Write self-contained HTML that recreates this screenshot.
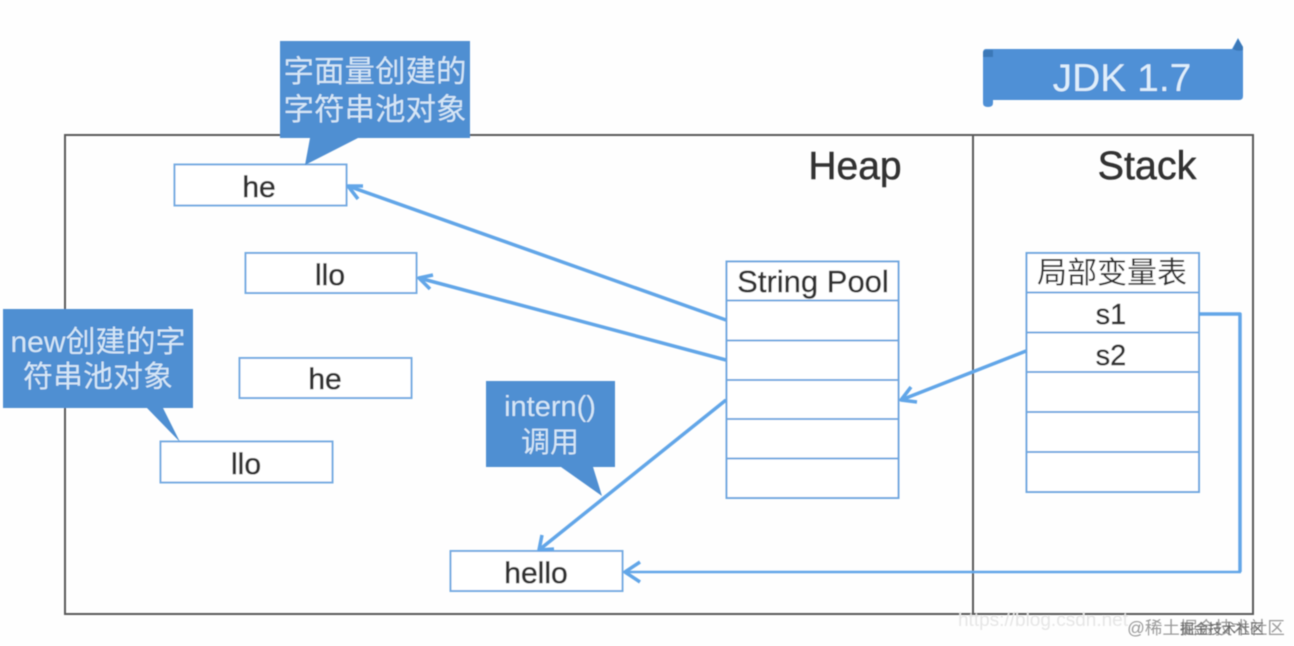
<!DOCTYPE html>
<html>
<head>
<meta charset="utf-8">
<style>
html,body{margin:0;padding:0;background:#fefefe;}
svg{display:block;}
text{font-family:"Liberation Sans","Noto Sans CJK SC",sans-serif;}
</style>
</head>
<body>
<svg width="1294" height="646" viewBox="0 0 1294 646" xmlns="http://www.w3.org/2000/svg">
<defs>
<filter id="b" x="-5%" y="-5%" width="110%" height="110%"><feGaussianBlur stdDeviation="0.6"/></filter>
</defs>
<rect width="1294" height="646" fill="#fefefe"/>
<g filter="url(#b)">
<!-- frame -->
<rect x="65" y="135" width="1188" height="479" fill="none" stroke="#5a5a5a" stroke-width="2"/>
<line x1="973" y1="135" x2="973" y2="614" stroke="#5a5a5a" stroke-width="2"/>

<g stroke="#333" stroke-width="0.5">
<text x="855" y="179" font-size="39" fill="#333" text-anchor="middle">Heap</text>
<text x="1147" y="179" font-size="39.500" fill="#333" text-anchor="middle">Stack</text>
</g>

<!-- JDK banner -->
<path d="M986 49 H1232 L1238 38 L1243 47 V96 Q1243 100 1239 100 H993 V103 Q993 107 988 107 Q983 107 983 103 V53 Q983 49 986 49 Z" fill="#4f90d6"/>
<path d="M983 53 Q983 50 986 50 H993 V57 H983 Z" fill="#3a78b8"/>
<path d="M1233 49 L1238 39 L1243 47 V50 Q1238 52 1233 49 Z" fill="#3a78b8"/>
<text x="1122" y="91" font-size="39" fill="#dfeefb" text-anchor="middle">JDK 1.7</text>

<!-- heap boxes -->
<g fill="#fff" stroke="#74abe2" stroke-width="2">
<rect x="174.500" y="164.500" width="172" height="41"/>
<rect x="245.500" y="253" width="171" height="40"/>
<rect x="239.500" y="358" width="172" height="40"/>
<rect x="160.500" y="441.500" width="172" height="41"/>
<rect x="450.500" y="551" width="172" height="40"/>
</g>
<g font-size="30" fill="#333" stroke="#333" stroke-width="0.6" text-anchor="middle">
<text x="259" y="197">he</text>
<text x="330" y="285">llo</text>
<text x="325" y="389">he</text>
<text x="246" y="474">llo</text>
<text x="536" y="583">hello</text>
</g>

<!-- string pool -->
<g fill="#fff" stroke="#6fa8e0" stroke-width="2">
<rect x="726.500" y="261.500" width="172" height="236.500"/>
<line x1="726" y1="300.500" x2="898" y2="300.500"/>
<line x1="726" y1="340.500" x2="898" y2="340.500"/>
<line x1="726" y1="380" x2="898" y2="380"/>
<line x1="726" y1="419" x2="898" y2="419"/>
<line x1="726" y1="458.500" x2="898" y2="458.500"/>
</g>
<text x="813" y="292" font-size="31" fill="#333" stroke="#333" stroke-width="0.4" text-anchor="middle">String Pool</text>

<!-- local var table -->
<g fill="#fff" stroke="#6fa8e0" stroke-width="2">
<rect x="1026.500" y="253" width="172.500" height="239"/>
<line x1="1026" y1="292.500" x2="1199" y2="292.500"/>
<line x1="1026" y1="332.500" x2="1199" y2="332.500"/>
<line x1="1026" y1="372" x2="1199" y2="372"/>
<line x1="1026" y1="412" x2="1199" y2="412"/>
<line x1="1026" y1="452" x2="1199" y2="452"/>
</g>
<text x="1112" y="283" font-size="30" fill="#333" text-anchor="middle">局部变量表</text>
<text x="1111" y="324" font-size="29" fill="#333" stroke="#333" stroke-width="0.4" text-anchor="middle">s1</text>
<text x="1111" y="365" font-size="29" fill="#333" stroke="#333" stroke-width="0.4" text-anchor="middle">s2</text>

<!-- arrows -->
<g fill="none" stroke="#62a6e8" stroke-width="3.500" stroke-linejoin="round">
<path d="M726 320 L348 186"/>
<path d="M363 186 L348 186 L358 199"/>
<path d="M726 360 L419 278"/>
<path d="M433 275 L419 278 L430 289"/>
<path d="M726 400 L539 550"/>
<path d="M542 535 L539 550 L554 549"/>
<path d="M1026 351 L901 400"/>
<path d="M911 387 L901 400 L917 402"/>
<path d="M1199 314 H1240 V572"/>
<path d="M640 562 L625 572 L640 582"/>
</g>
<path d="M626 572 H1241" stroke="#62a6e8" stroke-width="2.500" fill="none"/>

<!-- callouts -->
<path d="M280 41 H470 V138 H358 L305 165 L310 138 H280 Z" fill="#4f8fd2"/>
<text x="375" y="82" font-size="30.500" fill="#d5e6f6" text-anchor="middle">字面量创建的</text>
<text x="375" y="120" font-size="30.500" fill="#d5e6f6" text-anchor="middle">字符串池对象</text>

<path d="M3 309 H193 V408 H163 L180 442 L147 408 H3 Z" fill="#4f8fd2"/>
<text x="98" y="352" font-size="30" fill="#d5e6f6" text-anchor="middle">new创建的字</text>
<text x="98" y="387" font-size="30" fill="#d5e6f6" text-anchor="middle">符串池对象</text>

<path d="M486 381 H615 V467 H593 L602 496 L561 467 H486 Z" fill="#4f8fd2"/>
<text x="550" y="416" font-size="29" fill="#d5e6f6" text-anchor="middle">intern()</text>
<text x="550" y="452" font-size="29" fill="#d5e6f6" text-anchor="middle">调用</text>

<!-- watermark -->
<text x="1043" y="626" font-size="19" fill="#e6e6e6" text-anchor="middle">https://blog.csdn.net</text>
<text x="1206" y="634" font-size="17.500" fill="#9a9a9a" text-anchor="middle">@稀土掘金技术社区</text>
<text x="1222" y="634" font-size="14" fill="#666" text-anchor="middle">掘金技术社区</text>
</g>
</svg>
</body>
</html>
